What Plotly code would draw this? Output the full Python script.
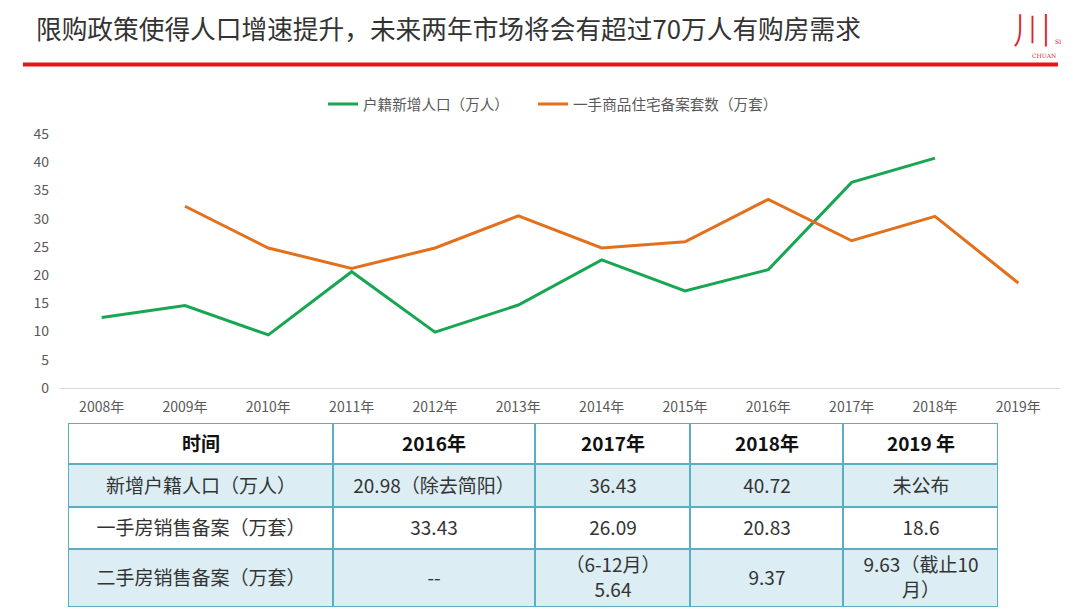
import plotly.graph_objects as go

# ---------------- data ----------------
years = ["2008年", "2009年", "2010年", "2011年", "2012年", "2013年",
         "2014年", "2015年", "2016年", "2017年", "2018年", "2019年"]
pop_new = [12.5, 14.6, 9.4, 20.6, 9.9, 14.7, 22.7, 17.2, 20.98, 36.43, 40.72, None]
house_new = [None, 32.2, 24.8, 21.2, 24.8, 30.5, 24.8, 25.9, 33.43, 26.09, 30.4, 18.6]

series_names = ["户籍新增人口（万人）", "一手商品住宅备案套数（万套）"]

table_header = ["时间", "2016年", "2017年", "2018年", "2019 年"]
table_rows = [
    ["新增户籍人口（万人）", "20.98（除去简阳）", "36.43", "40.72", "未公布"],
    ["一手房销售备案（万套）", "33.43", "26.09", "20.83", "18.6"],
    ["二手房销售备案（万套）", "--", "（6-12月）<br>5.64", "9.37", "9.63（截止10<br>月）"],
]

title_text = "限购政策使得人口增速提升，未来两年市场将会有超过70万人有购房需求"

# ---------------- layout constants ----------------
W, H = 1080, 616
FONT = "Noto Sans CJK SC"
GREEN = "#19a653"
ORANGE = "#e2701c"
GRAY = "#595959"
BORDER = "#5aaec4"
LIGHT = "#dcedf3"

col_widths = [265, 202, 155, 153, 155]
row_heights = [41, 43, 42, 58]
row_fill = [0, 1, 0, 1]          # 0 = white, 1 = light blue

col_edges = [0]
for w in col_widths:
    col_edges.append(col_edges[-1] + w)
row_edges = [0]
for h in row_heights:
    row_edges.append(row_edges[-1] + h)

fig = go.Figure()

fig.add_trace(go.Scatter(x=years, y=pop_new, mode="lines", name=series_names[0],
                         line=dict(color=GREEN, width=3), connectgaps=False,
                         legend="legend"))
fig.add_trace(go.Scatter(x=years, y=house_new, mode="lines", name=series_names[1],
                         line=dict(color=ORANGE, width=3), connectgaps=False,
                         legend="legend2"))

# ---------------- table (heatmap grid + cell text) ----------------
cell_text = [[f"<b><span style='color:#111111'>{h}</span></b>" for h in table_header]]
cell_text += [list(r) for r in table_rows]
z = [[f] * len(col_widths) for f in row_fill]

fig.add_trace(go.Heatmap(
    x=col_edges, y=row_edges, z=z, text=cell_text, texttemplate="%{text}",
    textfont=dict(family=FONT, size=19, color="#333333"),
    colorscale=[[0, "white"], [1, LIGHT]], zmin=0, zmax=1, showscale=False,
    xgap=2, ygap=2, hoverinfo="skip", xaxis="x2", yaxis="y2",
))
fig.add_shape(type="rect", xref="x2", yref="y2", layer="below",
              x0=col_edges[0] - 1, x1=col_edges[-1] + 1,
              y0=row_edges[0] - 1, y1=row_edges[-1] + 1,
              fillcolor=BORDER, line=dict(width=0))

# ---------------- title, rule and logo ----------------
fig.add_annotation(text=title_text, x=34 / W, y=1 - 28 / H, xref="paper", yref="paper",
                   xanchor="left", yanchor="middle", showarrow=False,
                   font=dict(family=FONT, size=25.7, color="#333333"))
fig.add_shape(type="line", xref="paper", yref="paper",
              x0=23 / W, x1=1058 / W, y0=1 - 64.5 / H, y1=1 - 64.5 / H,
              line=dict(color="#e8141b", width=4))
fig.add_annotation(text="川", x=1032 / W, y=1 - 26 / H, xref="paper", yref="paper",
                   xanchor="center", yanchor="middle", showarrow=False,
                   font=dict(family=FONT, size=38, color="#d9232d", weight=200))
fig.add_annotation(text="SI", x=1053 / W, y=1 - 42 / H, xref="paper", yref="paper",
                   xanchor="left", yanchor="middle", showarrow=False,
                   font=dict(family="DejaVu Serif", size=6, color="#d9232d"))
fig.add_annotation(text="CHUAN", x=1044 / W, y=1 - 55 / H, xref="paper", yref="paper",
                   xanchor="center", yanchor="middle", showarrow=False,
                   font=dict(family="DejaVu Serif", size=6, color="#d9232d"))

legend_style = dict(orientation="h", xanchor="left", y=1 - 104 / H, yanchor="middle",
                    font=dict(family=FONT, size=14.6, color=GRAY),
                    bgcolor="rgba(0,0,0,0)", itemwidth=30)

fig.update_layout(
    width=W, height=H,
    margin=dict(l=0, r=0, t=0, b=0, autoexpand=False),
    paper_bgcolor="white", plot_bgcolor="white",
    font=dict(family=FONT, color=GRAY),
    showlegend=True,
    legend=dict(x=323 / W, **legend_style),
    legend2=dict(x=533 / W, **legend_style),
    xaxis=dict(domain=[60 / W, 1060 / W], type="category", range=[-0.5, 11.5],
               showgrid=False, zeroline=False, showline=True, linecolor="#d9d9d9",
               linewidth=1, ticks="", ticklabelstandoff=6,
               tickfont=dict(family=FONT, size=14, color=GRAY)),
    yaxis=dict(domain=[1 - 388 / H, 1 - 134 / H], range=[0, 45], dtick=5,
               showgrid=False, zeroline=False, showline=False, ticks="",
               ticklabelstandoff=10,
               tickfont=dict(family=FONT, size=14, color=GRAY)),
    xaxis2=dict(domain=[68 / W, 998 / W], range=[col_edges[0], col_edges[-1]],
                anchor="y2", visible=False, fixedrange=True),
    yaxis2=dict(domain=[1 - 607 / H, 1 - 423 / H], range=[row_edges[-1], row_edges[0]],
                anchor="x2", visible=False, fixedrange=True),
)

fig.write_html("out.html", config={"displayModeBar": False},
               post_script="document.body.style.margin='0px';")
